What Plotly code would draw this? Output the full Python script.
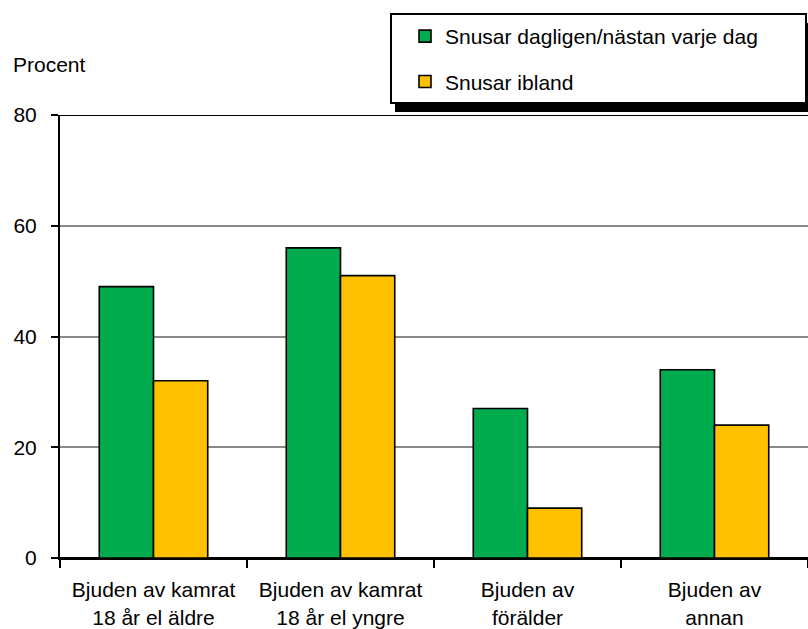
import plotly.graph_objects as go

categories = [
    "Bjuden av kamrat<br>18 år el äldre",
    "Bjuden av kamrat<br>18 år el yngre",
    "Bjuden av<br>förälder",
    "Bjuden av<br>annan",
]
daily = [49, 56, 27, 34]
sometimes = [32, 51, 9, 24]
y_ticks = [0, 20, 40, 60, 80]

GREEN = "#00AC4E"
YELLOW = "#FFC000"
FONT = "Liberation Sans, Arial, Helvetica, sans-serif"
FS = 21

fig = go.Figure()
fig.add_trace(go.Bar(
    x=categories, y=daily, name="Snusar dagligen/nästan varje dag",
    legendgroup="a",
    marker=dict(color=GREEN, line=dict(color="black", width=1.6)),
))
fig.add_trace(go.Bar(
    x=categories, y=sometimes, name="Snusar ibland",
    legendgroup="b",
    marker=dict(color=YELLOW, line=dict(color="black", width=1.6)),
))

# plot area: left margin 60px, spans to right edge
W, H = 808, 629
L, R, T, B = 60, 0, 115, 71
pw, ph = W - L - R, H - T - B

def px_x(x):
    return (x - L) / pw

def px_y(y):
    return (H - B - y) / ph

shapes = [
    # legend drop shadow
    dict(type="rect", xref="paper", yref="paper",
         x0=px_x(395), x1=px_x(812), y0=px_y(112), y1=px_y(23),
         fillcolor="black", line=dict(width=0), layer="above"),
    # legend box
    dict(type="rect", xref="paper", yref="paper",
         x0=px_x(391), x1=px_x(806), y0=px_y(103), y1=px_y(14),
         fillcolor="white", line=dict(color="black", width=2), layer="above"),
    # top border line at 80
    dict(type="line", xref="paper", yref="y", x0=0, x1=1, y0=80, y1=80,
         line=dict(color="black", width=2), layer="above"),
]

fig.update_layout(
    width=W, height=H,
    margin=dict(l=L, r=R, t=T, b=B, pad=0, autoexpand=False),
    paper_bgcolor="white", plot_bgcolor="white",
    font=dict(family=FONT, size=FS, color="black"),
    barmode="group", bargap=0.42, bargroupgap=0,
    showlegend=True,
    legend=dict(
        x=px_x(405), y=px_y(16), xanchor="left", yanchor="top",
        bgcolor="rgba(0,0,0,0)", borderwidth=0,
        font=dict(family=FONT, size=FS, color="black"),
        tracegroupgap=15, traceorder="grouped",
    ),
    shapes=shapes,
    annotations=[dict(
        text="Procent", xref="paper", yref="paper",
        x=px_x(11), y=px_y(65), xanchor="left", yanchor="middle",
        showarrow=False, font=dict(family=FONT, size=FS, color="black"),
    )],
    xaxis=dict(
        type="category", tickson="boundaries", ticks="outside", ticklen=8,
        tickwidth=1.5, tickcolor="black", showline=True, linecolor="black",
        linewidth=2, showgrid=False, tickfont=dict(size=FS),
        ticklabelstandoff=12, automargin=False,
    ),
    yaxis=dict(
        range=[0, 80], tickvals=y_ticks, ticks="outside", ticklen=7,
        tickwidth=1.5, tickcolor="black", showline=True, linecolor="black",
        linewidth=2, showgrid=True, gridcolor="#8a8a8a", gridwidth=1.5,
        zeroline=True, zerolinecolor="black", zerolinewidth=2,
        tickfont=dict(size=FS), ticklabelstandoff=10, automargin=False,
    ),
)

fig.write_html("out.html")
